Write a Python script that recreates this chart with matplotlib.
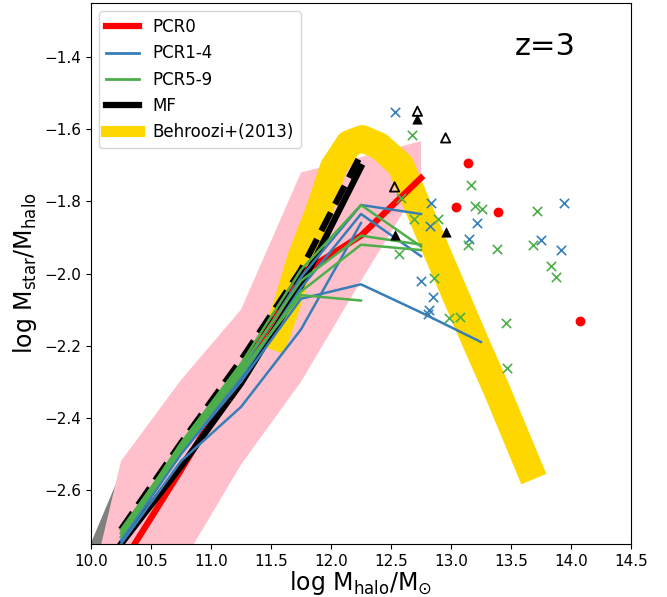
import matplotlib
matplotlib.use("Agg")
import matplotlib.pyplot as plt
import numpy as np
from matplotlib.lines import Line2D

# ---------------- data ----------------
bins = [10.25, 10.75, 11.25, 11.75, 12.25, 12.75, 13.25]

# shaded scatter ranges
band_x = [9.75, 10.25, 10.75, 11.25, 11.75, 12.25, 12.75]
band_hi = [-3.22, -2.52, -2.295, -2.10, -1.72, -1.677, -1.633]
band_lo = [-3.80, -3.20, -2.81, -2.53, -2.30, -2.02, -1.75]

gray_x = [9.75, 10.25]
gray_hi = [-2.94, -2.545]
gray_lo = [-3.60, -3.30]

# Behroozi+(2013)
beh_x = [11.50, 11.62, 11.75, 11.90, 12.02, 12.15, 12.26, 12.40, 12.58, 12.85, 13.22, 13.38, 13.69]
beh_y = [-2.21, -2.10, -1.955, -1.826, -1.706, -1.640, -1.626, -1.646, -1.70, -1.915, -2.202, -2.322, -2.57]

# PCR0
pcr0 = [-2.81, -2.545, -2.27, -2.00, -1.895, -1.735]
# MF
mf_solid = [-2.75, -2.535, -2.305, -2.035, -1.705]
mf_dash = [-2.71, -2.47, -2.24, -1.99, -1.67]

# PCR1-4 lines
pcr14 = [
    [-2.73, -2.49, -2.27, -2.01, -1.81, -1.835],
    [-2.74, -2.50, -2.29, -2.04, -1.835, -1.952],
    [-2.75, -2.52, -2.37, -2.155, -1.86],
    [-2.74, -2.50, -2.30, -2.07, -2.03, -2.108, -2.19],
]
# PCR5-9 lines
pcr59 = [
    [-2.72, -2.47, -2.25, -1.99, -1.81, -1.925],
    [-2.71, -2.48, -2.26, -2.02, -1.895, -1.92],
    [-2.73, -2.49, -2.28, -2.05, -1.92, -1.935],
    [-2.72, -2.48, -2.27, -2.06, -2.075],
]

# individual haloes
blue_x = [12.533, 12.833, 12.825, 13.214, 13.15, 13.75, 13.917, 13.944, 12.75, 12.847, 12.82, 12.81]
blue_y = [-1.551, -1.804, -1.867, -1.859, -1.904, -1.908, -1.936, -1.804, -2.021, -2.065, -2.102, -2.111]

green_x = [12.672, 13.164, 13.203, 13.261, 13.72, 12.58, 12.69, 12.89, 12.57, 13.14, 13.38,
           13.68, 13.83, 13.875, 12.858, 12.98, 13.075, 13.456, 13.464]
green_y = [-1.615, -1.756, -1.813, -1.821, -1.827, -1.792, -1.85, -1.85, -1.945, -1.922, -1.933,
           -1.921, -1.98, -2.009, -2.013, -2.123, -2.121, -2.137, -2.262]

red_x = [13.14, 13.04, 13.39, 14.075]
red_y = [-1.694, -1.815, -1.83, -2.132]

tri_fill_x = [12.72, 12.96, 12.53]
tri_fill_y = [-1.573, -1.884, -1.893]
tri_open_x = [12.72, 12.955, 12.53]
tri_open_y = [-1.55, -1.624, -1.76]

xticks = [10.0, 10.5, 11.0, 11.5, 12.0, 12.5, 13.0, 13.5, 14.0, 14.5]
yticks = [-2.6, -2.4, -2.2, -2.0, -1.8, -1.6, -1.4]

BLUE = '#377eb8'
GREEN = '#4daf4a'

# ---------------- plot ----------------
fig = plt.figure(figsize=(6.67, 5.97), dpi=100)
ax = fig.add_axes([91 / 667, 53 / 597, 540 / 667, 541 / 597])

ax.fill_between(gray_x, gray_lo, gray_hi, color='gray', lw=0, zorder=1)
ax.fill_between(band_x, band_lo, band_hi, color='pink', lw=0, zorder=2)
ax.plot(beh_x, beh_y, color='gold', lw=19.5, solid_capstyle='butt',
        solid_joinstyle='round', zorder=3)
ax.plot(bins[:len(pcr0)], pcr0, color='red', lw=4.5, zorder=4)
ax.plot(bins[:len(mf_solid)], mf_solid, color='black', lw=4.5, zorder=5)
ax.plot(bins[:len(mf_dash)], mf_dash, color='black', lw=4.5, ls=(0, (3.3, 1.5)), zorder=5)
for yv in pcr14:
    ax.plot(bins[:len(yv)], yv, color=BLUE, lw=1.8, zorder=6)
for yv in pcr59:
    ax.plot(bins[:len(yv)], yv, color=GREEN, lw=1.8, zorder=6)

ax.scatter(blue_x, blue_y, marker='x', s=45, color=BLUE, lw=1.2, zorder=7)
ax.scatter(green_x, green_y, marker='x', s=45, color=GREEN, lw=1.2, zorder=7)
ax.scatter(red_x, red_y, marker='o', s=50, color='red', lw=0, zorder=7)
ax.scatter(tri_fill_x, tri_fill_y, marker='^', s=45, color='black', lw=0.5, zorder=7)
ax.scatter(tri_open_x, tri_open_y, marker='^', s=45, facecolor='none', edgecolor='black',
           lw=1.3, zorder=7)

ax.set_xlim(10.0, 14.5)
ax.set_ylim(-2.75, -1.25)
ax.set_xticks(xticks)
ax.set_yticks(yticks)
ax.tick_params(labelsize=11)
ax.set_xlabel(r'log M$_{\rm halo}$/M$_{\odot}$', fontsize=17, labelpad=0)
ax.set_ylabel(r'log M$_{\rm star}$/M$_{\rm halo}$', fontsize=17)

ax.text(0.842, 0.92, 'z=3', transform=ax.transAxes, fontsize=22, ha='center', va='center')

handles = [
    Line2D([], [], color='red', lw=4.5),
    Line2D([], [], color=BLUE, lw=2),
    Line2D([], [], color=GREEN, lw=2),
    Line2D([], [], color='black', lw=4.5),
    Line2D([], [], color='gold', lw=8),
]
labels = ['PCR0', 'PCR1-4', 'PCR5-9', 'MF', 'Behroozi+(2013)']
ax.legend(handles, labels, loc='upper left', fontsize=12)

fig.savefig('out.png', dpi=100)
